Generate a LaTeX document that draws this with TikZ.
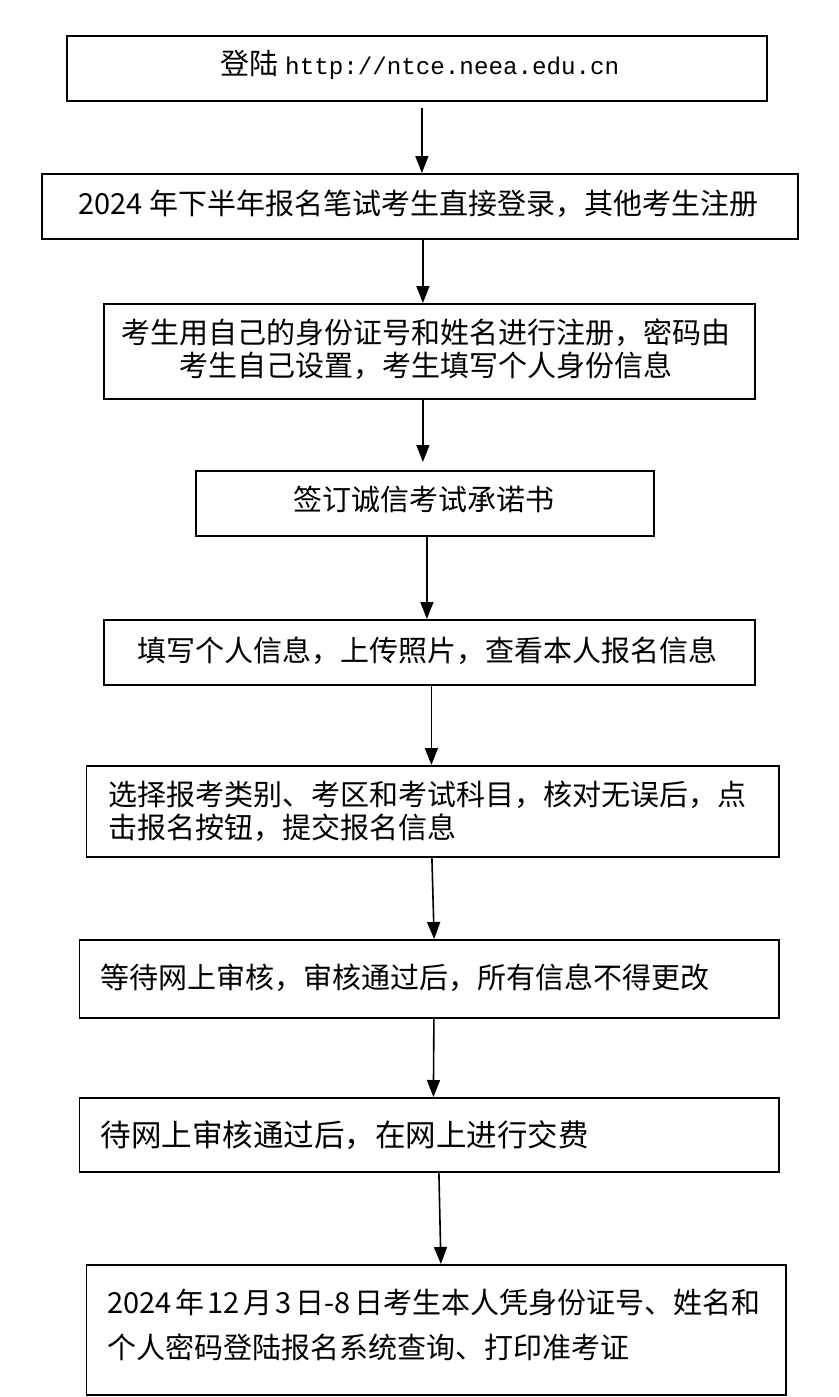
\documentclass[tikz,border=0pt]{standalone}
\usepackage{fontspec}
\setmainfont{Noto Sans CJK SC}
\newfontfamily\urlfont{Liberation Mono}
\newcommand{\tightsp}{\spaceskip=3.5pt\relax}
\usetikzlibrary{arrows.meta,calc}
\begin{document}
\begin{tikzpicture}[x=1pt,y=-1pt,
  box/.style={draw,line width=1.8pt,anchor=north west,inner sep=0pt},
  txt/.style={font=\fontsize{29}{33}\selectfont,inner sep=0pt},
  arr/.style={line width=1.6pt,-{Triangle[length=17pt,width=13pt]}}]
\useasboundingbox[fill=white] (0,0) rectangle (838,1397);
% boxes
\node[box,minimum width=700pt,minimum height=65pt] (b1) at (66,35) {};
\node[box,minimum width=756pt,minimum height=65pt] (b2) at (41,173) {};
\node[box,minimum width=651pt,minimum height=95pt] (b3) at (103,303) {};
\node[box,minimum width=458pt,minimum height=65pt] (b4) at (195,470) {};
\node[box,minimum width=651pt,minimum height=65pt] (b5) at (103,619) {};
\node[box,minimum width=692.5pt,minimum height=91pt] (b6) at (85.5,765) {};
\node[box,minimum width=699.5pt,minimum height=78pt] (b7) at (78.5,939) {};
\node[box,minimum width=699.5pt,minimum height=74pt] (b8) at (78.5,1097) {};
\node[box,minimum width=699.5pt,minimum height=130pt] (b9) at (85.5,1264) {};
% texts
\node[txt] (t1) at (420,65) {登陆 {\urlfont\fontsize{24.2}{30}\selectfont http://ntce.neea.edu.cn}};
\node[txt] (t2) at (418.5,204) {2024 年下半年报名笔试考生直接登录，其他考生注册};
\node[txt,align=center] (t3) at (426,349) {考生用自己的身份证号和姓名进行注册，密码由\\考生自己设置，考生填写个人身份信息};
\node[txt] (t4) at (423.5,499) {签订诚信考试承诺书};
\node[txt] (t5) at (427.5,651) {填写个人信息，上传照片，查看本人报名信息};
\node[txt,align=left,anchor=west] (t6) at (108.5,811) {选择报考类别、考区和考试科目，核对无误后，点\\击报名按钮，提交报名信息};
\node[txt,anchor=west] (t7) at (100.5,978) {等待网上审核，审核通过后，所有信息不得更改};
\node[txt,anchor=west,font=\fontsize{30.5}{33}\selectfont] (t8) at (100.5,1135) {待网上审核通过后，在网上进行交费};
\node[txt,align=left,anchor=west,font=\fontsize{29}{45}\selectfont] (t9) at (107,1324.5) {\tightsp 2024 年 12 月 3 日-8 日考生本人凭身份证号、姓名和\\个人密码登陆报名系统查询、打印准考证};
% arrows
\draw[arr,shorten <=6pt] ([xshift=5pt]b1.south) -- ([xshift=2pt]b2.north);
\draw[arr] ([xshift=3pt]b2.south) -- ([xshift=-6.5pt]b3.north);
\draw[arr,shorten >=8pt] ([xshift=-6.5pt]b3.south) -- ([xshift=-2pt]b4.north);
\draw[arr] ([xshift=2pt]b4.south) -- ([xshift=-2.5pt]b5.north);
\draw[arr] ([xshift=2pt]b5.south) -- ([xshift=-1.25pt]b6.north);
\draw[arr] ([xshift=-0.75pt]b6.south) -- ([xshift=5pt]b7.north);
\draw[arr] ([xshift=4.75pt]b7.south) -- ([xshift=4.25pt]b8.north);
\draw[arr] ([xshift=9.75pt]b8.south) -- ([xshift=4.75pt]b9.north);
\end{tikzpicture}
\end{document}
